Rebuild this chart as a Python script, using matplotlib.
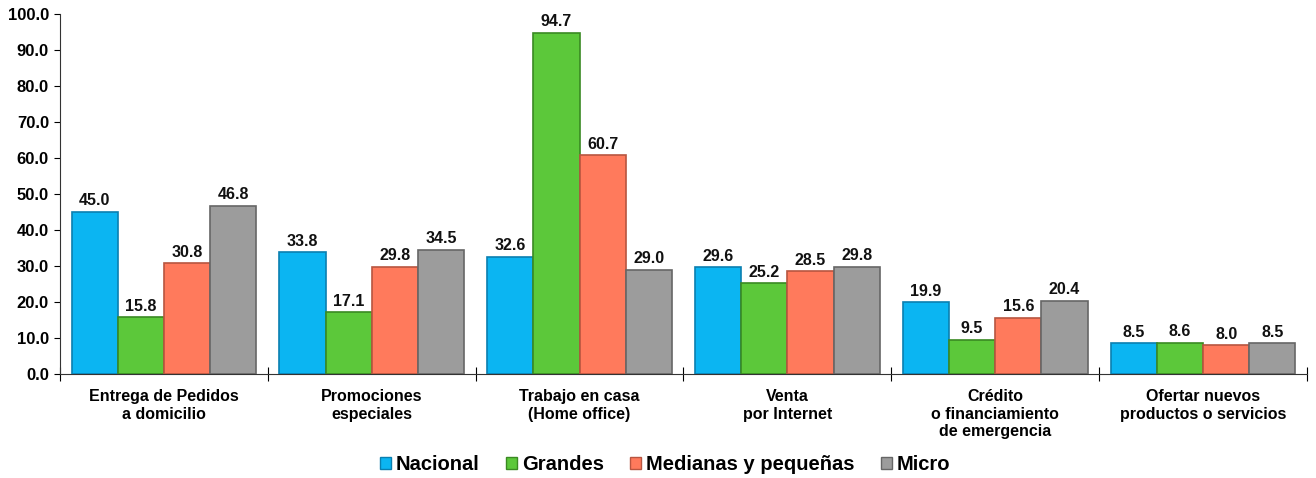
import numpy as np
import matplotlib.pyplot as plt
from matplotlib.patches import Patch

plt.rcParams['font.family'] = ['Liberation Sans', 'DejaVu Sans']

categories = ['Entrega de Pedidos\na domicilio', 'Promociones\nespeciales',
              'Trabajo en casa\n(Home office)', 'Venta\npor Internet',
              'Crédito\no financiamiento\nde emergencia',
              'Ofertar nuevos\nproductos o servicios']
series_names = ['Nacional', 'Grandes', 'Medianas y pequeñas', 'Micro']
nacional = [45.0, 33.8, 32.6, 29.6, 19.9, 8.5]
grandes = [15.8, 17.1, 94.7, 25.2, 9.5, 8.6]
medianas = [30.8, 29.8, 60.7, 28.5, 15.6, 8.0]
micro = [46.8, 34.5, 29.0, 29.8, 20.4, 8.5]

colors = ['#0BB5F2', '#5CC83A', '#FF7A5C', '#9C9C9C']
edges = ['#0A7FB0', '#3A8A22', '#B85540', '#666666']

fig = plt.figure(figsize=(13.16, 4.78), dpi=100)
ax = fig.add_axes([60 / 1316, 1 - 374 / 478, 1247 / 1316, 360 / 478])

x = np.arange(len(categories))
w = 0.222
for i, vals in enumerate([nacional, grandes, medianas, micro]):
    pos = x + (i - 1.5) * w
    ax.bar(pos, vals, width=w, color=colors[i], edgecolor=edges[i], linewidth=1.2,
           label=series_names[i], zorder=3)
    for px, v in zip(pos, vals):
        ax.text(px, v + 1.0, f'{v:.1f}', ha='center', va='bottom',
                fontsize=11.5, fontweight='bold', color='#111111')

ax.set_xlim(-0.5, len(categories) - 0.5)
ax.set_ylim(0, 100)
ax.set_yticks(np.arange(0, 101, 10))
ax.set_yticklabels([f'{t:.1f}' for t in np.arange(0, 101, 10)],
                   fontsize=12, fontweight='bold')
ax.set_xticks(np.arange(-0.5, len(categories) - 0.4, 1))
ax.set_xticklabels([])
ax.set_xticks(x, minor=True)
ax.set_xticklabels(categories, minor=True, fontsize=11.5, fontweight='bold')
ax.tick_params(axis='x', which='minor', length=0, pad=11)
ax.tick_params(axis='x', which='major', direction='inout', length=10)
ax.tick_params(axis='y', direction='out', length=4, pad=4)
for s in ['top', 'right']:
    ax.spines[s].set_visible(False)
ax.spines['left'].set_color('#333333')
ax.spines['bottom'].set_color('#333333')

handles = [Patch(facecolor=c, edgecolor=e, label=n) for c, e, n in zip(colors, edges, series_names)]
fig.legend(handles=handles, loc='center', bbox_to_anchor=(665 / 1316, 1 - 465 / 478),
           ncol=4, frameon=False, prop={'size': 14.5, 'weight': 'bold'},
           handlelength=0.55, handleheight=0.55, handletextpad=0.25, columnspacing=1.3)

fig.savefig('out.png', dpi=100)
